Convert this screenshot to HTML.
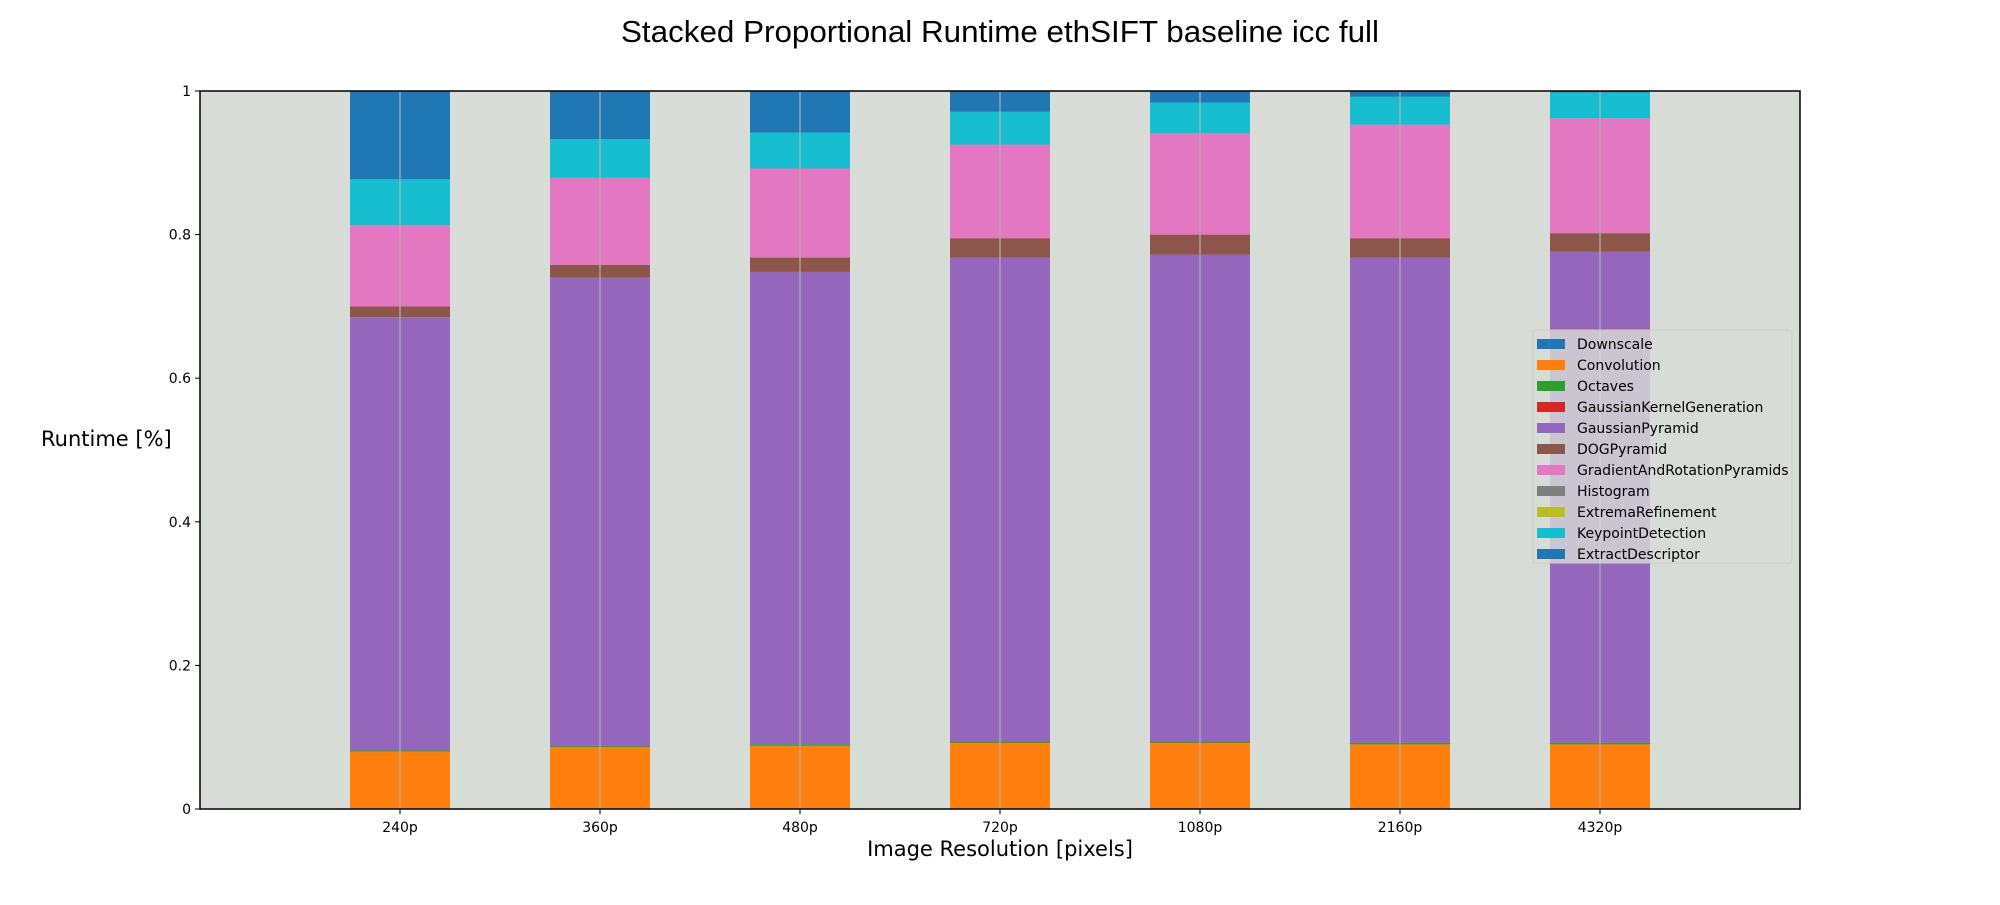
<!DOCTYPE html>
<html><head><meta charset="utf-8"><style>
body{margin:0;background:#fff;}
svg text{font-family:"DejaVu Sans","Liberation Sans",sans-serif;}
</style></head><body>
<svg id="chart" width="2000" height="900" xmlns="http://www.w3.org/2000/svg">
<rect width="2000" height="900" fill="#fff"/>
<text x="621" y="42" textLength="758" lengthAdjust="spacingAndGlyphs" font-size="31" style="font-family:'Liberation Sans',sans-serif" fill="#000">Stacked Proportional Runtime ethSIFT baseline icc full</text>
<rect x="200" y="91" width="1600" height="718" fill="#d8dcd6"/>
<g id="bars"></g>
<g id="grid"></g>
<rect x="200" y="91" width="1600" height="718" fill="none" stroke="#000" stroke-width="1.5"/>
<g id="yticks"></g>
<g id="xticks"></g>
<text x="41" y="446" font-size="21" fill="#000">Runtime [%]</text>
<text x="1000" y="856" text-anchor="middle" font-size="21" fill="#000">Image Resolution [pixels]</text>
<g id="legend"></g>
</svg>
<script>
const categories = ["240p","360p","480p","720p","1080p","2160p","4320p"];
const seriesNames = ["Downscale","Convolution","Octaves","GaussianKernelGeneration","GaussianPyramid","DOGPyramid","GradientAndRotationPyramids","Histogram","ExtremaRefinement","KeypointDetection","ExtractDescriptor"];
const colors = ["#1f77b4","#ff7f0e","#2ca02c","#d62728","#9467bd","#8c564b","#e377c2","#7f7f7f","#bcbd22","#17becf","#1f77b4"];
const downscale = [0.001,0.001,0.001,0.001,0.001,0.001,0.001];
const convolution = [0.079,0.085,0.087,0.091,0.091,0.089,0.089];
const octaves = [0.002,0.002,0.002,0.002,0.002,0.002,0.002];
const gaussKernel = [0,0,0,0,0,0,0];
const gaussPyramid = [0.603,0.652,0.658,0.674,0.678,0.676,0.684];
const dogPyramid = [0.015,0.018,0.020,0.027,0.028,0.027,0.026];
const gradRotPyramids = [0.113,0.121,0.124,0.130,0.141,0.158,0.160];
const histogram = [0,0,0,0,0,0,0];
const extremaRefinement = [0,0,0,0,0,0,0];
const keypointDetection = [0.064,0.054,0.050,0.046,0.043,0.039,0.036];
const extractDescriptor = [0.123,0.067,0.058,0.029,0.016,0.008,0.002];
const series = [downscale,convolution,octaves,gaussKernel,gaussPyramid,dogPyramid,gradRotPyramids,histogram,extremaRefinement,keypointDetection,extractDescriptor];
const yTicks = [0,0.2,0.4,0.6,0.8,1];
const yTickLabels = ["0","0.2","0.4","0.6","0.8","1"];

const NS="http://www.w3.org/2000/svg";
const X0=200,X1=1800,Y0=809,Y1=91;
const xs=i=>X0+(i+1)*(X1-X0)/(categories.length+1);
const ys=v=>Y0-v*(Y0-Y1);
const bw=100;
function mk(t,a){const e=document.createElementNS(NS,t);for(const k in a)e.setAttribute(k,a[k]);return e;}
const bars=document.getElementById('bars'),grid=document.getElementById('grid');
categories.forEach((c,i)=>{
  let acc=0;
  series.forEach((s,j)=>{
    const v=s[i];
    const r=mk('rect',{x:xs(i)-bw/2,y:ys(acc+v),width:bw,height:Math.max(0,ys(acc)-ys(acc+v)),fill:colors[j]});
    
    
    bars.appendChild(r);
    acc+=v;
  });
  const g=mk('line',{x1:xs(i),x2:xs(i),y1:Y1,y2:Y0,stroke:'#b0b0b0','stroke-width':1.2});
  
  
  grid.appendChild(g);
  const tk=mk('line',{x1:xs(i),x2:xs(i),y1:Y0,y2:Y0+5,stroke:'#000'});
  
  
  document.getElementById('xticks').appendChild(tk);
  const t=mk('text',{x:xs(i),y:Y0+23,'text-anchor':'middle','font-size':14,fill:'#000'});
  t.textContent=c;
  
  
  document.getElementById('xticks').appendChild(t);
});
yTicks.forEach((v,i)=>{
  const tk=mk('line',{x1:X0-5,x2:X0,y1:ys(v),y2:ys(v),stroke:'#000'});
  
  
  document.getElementById('yticks').appendChild(tk);
  const t=mk('text',{x:X0-9,y:ys(v)+5,'text-anchor':'end','font-size':14,fill:'#000'});
  t.textContent=yTickLabels[i];
  
  
  document.getElementById('yticks').appendChild(t);
});
const lg=document.getElementById('legend');
const box=mk('rect',{x:1533,y:330,width:259,height:233,rx:3,fill:'#d8dcd6','fill-opacity':0.8,stroke:'#cccccc'});


lg.appendChild(box);
seriesNames.forEach((n,j)=>{
  const y=340+j*21;
  const p=mk('rect',{x:1537,y:y-1,width:28,height:10,fill:colors[j]});
  
  
  lg.appendChild(p);
  const t=mk('text',{x:1577,y:y+9,'font-size':14,fill:'#000'});
  t.textContent=n;
  
  
  lg.appendChild(t);
});
</script>
</body></html>
